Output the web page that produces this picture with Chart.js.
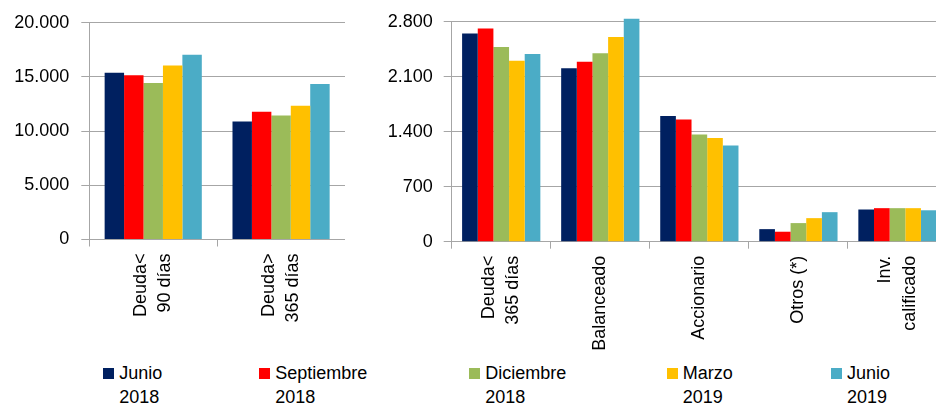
<!DOCTYPE html>
<html lang="es">
  <head>
    <meta charset="utf-8">
    <title>Fondos por tipo</title>
    <script src="https://cdn.jsdelivr.net/npm/chart.js@4.4.1/dist/chart.umd.min.js"></script>
    <style>
        html, body { margin: 0; padding: 0; background: #fff; }
        body { width: 936px; height: 404px; overflow: hidden; position: relative; font-family: "Liberation Sans", Arial, sans-serif; }
        .box { position: absolute; }
        #left { left: 0; top: 0; width: 345px; height: 360px; }
        #right { left: 370px; top: 0; width: 577px; height: 360px; }
        .leg { position: absolute; top: 361px; font-size: 18px; line-height: 24px; color: #000; white-space: nowrap; }
        .leg i { position: absolute; left: 0; top: 7px; width: 11px; height: 11px; }
        .leg span { position: absolute; left: 16px; top: 0; }
    </style>
  </head>
  <body>
    <div class="box" id="left"><canvas id="chart-1"></canvas></div>
    <div class="box" id="right"><canvas id="chart-2"></canvas></div>
    <div id="legend"></div>

    <script>
      // data
      const categoriesLeft = [['Deuda<', '90 días'], ['Deuda>', '365 días']];
      const categoriesRight = [['Deuda<', '365 días'], 'Balanceado', 'Accionario', 'Otros (*)', ['Inv.', 'calificado']];
      const seriesNames = ['Junio 2018', 'Septiembre 2018', 'Diciembre 2018', 'Marzo 2019', 'Junio 2019'];
      const seriesColors = ['#002060', '#FF0000', '#9BBB59', '#FFC000', '#4BACC6'];

      const jun2018Left = [15400, 10900];
      const sep2018Left = [15150, 11800];
      const dic2018Left = [14450, 11450];
      const mar2019Left = [16050, 12350];
      const jun2019Left = [17050, 14350];

      const jun2018Right = [2650, 2210, 1600, 160, 410];
      const sep2018Right = [2715, 2290, 1555, 127, 427];
      const dic2018Right = [2480, 2400, 1365, 237, 427];
      const mar2019Right = [2305, 2605, 1320, 300, 427];
      const jun2019Right = [2390, 2840, 1225, 376, 400];

      const leftTicks = [0, 5000, 10000, 15000, 20000];
      const rightTicks = [0, 700, 1400, 2100, 2800];

      Chart.defaults.font.family = '"Liberation Sans", Arial, sans-serif';
      Chart.defaults.color = '#111';

      var grey = '#A6A6A6';
      var fmt = function(v) { return String(v).replace(/\B(?=(\d{3})+(?!\d))/g, '.'); };

      // rotated multi-line labels: chart.js puts the first line on the tick, center the block instead
      var centerLines = {
        id: 'centerLines',
        beforeDraw: function(chart) {
          var sc = chart.scales.x;
          var f = sc.options.ticks.font;
          var lh = f.size * f.lineHeight;
          sc.getLabelItems().forEach(function(it) {
            if (Array.isArray(it.label) && !it._moved) {
              it.options.translation[0] -= (it.label.length - 1) * lh / 2;
              it._moved = true;
            }
          });
        }
      };

      function makeChart(id, labels, seriesData, ticks, opt) {
        return new Chart(document.getElementById(id), {
          type: 'bar',
          data: {
            labels: labels,
            datasets: seriesData.map(function(d, i) {
              return {
                label: seriesNames[i],
                data: d,
                backgroundColor: seriesColors[i],
                borderWidth: 0,
                barPercentage: 1,
                categoryPercentage: opt.cat,
                clip: false
              };
            })
          },
          options: {
            responsive: true,
            maintainAspectRatio: false,
            animation: false,
            layout: { padding: { top: opt.top, right: 0, left: 0, bottom: 0 } },
            plugins: { legend: { display: false }, tooltip: { enabled: false } },
            scales: {
              x: {
                grid: { drawOnChartArea: false, drawTicks: true, tickLength: 7, color: grey, offset: true },
                border: { color: grey },
                ticks: {
                  autoSkip: false, minRotation: 90, maxRotation: 90, padding: 7, color: '#000',
                  font: { size: 18, lineHeight: opt.lh }
                },
                afterFit: function(s) {
                  s.height = 360 - opt.bottom;
                  s.paddingLeft = 0;
                  s.paddingRight = 0;
                }
              },
              y: {
                min: ticks[0],
                max: ticks[ticks.length - 1],
                afterBuildTicks: function(s) { s.ticks = ticks.map(function(v) { return { value: v }; }); },
                grid: { color: grey, tickLength: 8 },
                border: { color: grey },
                ticks: { padding: opt.pad, color: '#000', font: { size: 18 }, callback: fmt },
                afterFit: function(s) { s.width = opt.yw; }
              }
            }
          },
          plugins: [centerLines]
        });
      }

      makeChart('chart-1', categoriesLeft,
        [jun2018Left, sep2018Left, dic2018Left, mar2019Left, jun2019Left], leftTicks,
        { cat: 0.76, top: 19.3, bottom: 239.5, yw: 89.3, pad: 12, lh: 1.3 });

      makeChart('chart-2', categoriesRight,
        [jun2018Right, sep2018Right, dic2018Right, mar2019Right, jun2019Right], rightTicks,
        { cat: 0.79, top: 20.7, bottom: 241.7, yw: 81.7, pad: 11, lh: 1.36 });

      // legend across both panels
      var legendX = [103.3, 259.3, 469.3, 666.7, 831];
      var leg = document.getElementById('legend');
      seriesNames.forEach(function(name, i) {
        var d = document.createElement('div');
        d.className = 'leg';
        d.style.left = legendX[i] + 'px';
        d.innerHTML = '<i style="background:' + seriesColors[i] + '"></i><span>' + name.replace(' ', '<br>') + '</span>';
        leg.appendChild(d);
      });
    </script>
  </body>
</html>
